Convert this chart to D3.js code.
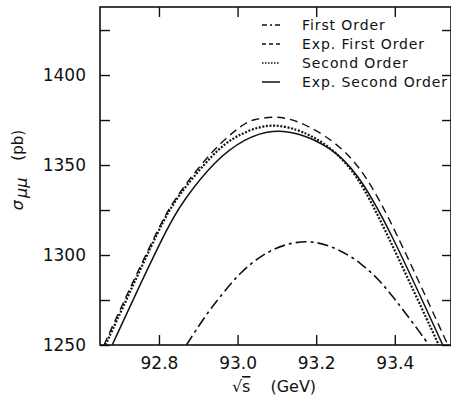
<!DOCTYPE html>
<html>
<head>
<meta charset="utf-8">
<script src="https://cdn.jsdelivr.net/npm/d3@7"></script>
<style>
  body { margin: 0; background: #fff; }
  text { font-family: "DejaVu Sans", sans-serif; fill: #111; }
</style>
</head>
<body>
<svg id="chart" width="451" height="399"></svg>
<script>
// values: sqrt(s) in GeV, sigma in pb
const firstS = [92.870, 92.8915, 92.928, 92.9635, 93.0085, 93.061, 93.123, 93.191, 93.258, 93.315, 93.362, 93.3975, 93.431, 93.4655, 93.4865];
const firstV = [1250, 1257.4, 1269.3, 1279.0, 1290.7, 1300.0, 1306.5, 1308.3, 1303.3, 1295.4, 1285.8, 1276.2, 1266.6, 1256.6, 1250];

const expFirstS = [92.660, 92.7186, 92.800, 92.842, 92.940, 93.0136, 93.0416, 93.0924, 93.1305, 93.184, 93.260, 93.3238, 93.395, 93.535];
const expFirstV = [1250, 1278, 1315.6, 1332.4, 1359.5, 1372.8, 1375.5, 1376.9, 1376.0, 1371.5, 1361, 1345.5, 1317, 1250];

const secondS = [92.664, 92.721, 92.8026, 92.845, 92.942, 92.993, 93.077, 93.154, 93.197, 93.235, 93.3035, 93.377, 93.512];
const secondV = [1250, 1277, 1315.6, 1332.4, 1357.5, 1366, 1373.6, 1369.8, 1365, 1360, 1345.5, 1313.5, 1250];

const expSecondS = [92.681, 92.740, 92.823, 92.861, 92.942, 93.019, 93.090, 93.158, 93.235, 93.303, 93.382, 93.522];
const expSecondV = [1250, 1278, 1316, 1330, 1352.5, 1365, 1369.8, 1367.8, 1360, 1346.5, 1316.7, 1250];

const legendLabels = ["First Order", "Exp. First Order", "Second Order", "Exp. Second Order"];
const xTicks = [92.8, 93.0, 93.2, 93.4];
const yTicks = [1250, 1275, 1300, 1325, 1350, 1375, 1400, 1425];
const yLabelled = [1250, 1300, 1350, 1400];

const svg = d3.select("#chart");
const margin = { top: 7, right: 0, bottom: 54, left: 100 };
const width = +svg.attr("width") - margin.left - margin.right;
const height = +svg.attr("height") - margin.top - margin.bottom;

const g = svg.append("g")
  .attr("transform", `translate(${margin.left},${margin.top})`);

const x = d3.scaleLinear().domain([92.65, 93.543]).range([0, width]);
const y = d3.scaleLinear().domain([1250, 1437.8]).range([height, 0]);

const styles = [
  { s: firstS, v: firstV, dash: "11,4,3,4", w: 1.6 },
  { s: expFirstS, v: expFirstV, dash: "8,5", w: 1.4 },
  { s: secondS, v: secondV, dash: "2,1.6", w: 2.2 },
  { s: expSecondS, v: expSecondV, dash: null, w: 1.5 }
];

g.append("clipPath").attr("id", "clip")
  .append("rect").attr("width", width).attr("height", height);

const line = d3.line()
  .x(d => x(d[0]))
  .y(d => y(d[1]))
  .curve(d3.curveBasis);

g.append("g").attr("clip-path", "url(#clip)")
  .selectAll("path")
  .data(styles)
  .enter()
  .append("path")
  .attr("d", d => line(d.s.map((s, i) => [s, d.v[i]])))
  .attr("fill", "none")
  .attr("stroke", "#111")
  .attr("stroke-width", d => d.w)
  .attr("stroke-dasharray", d => d.dash);

// axes, ticks pointing inward on all four sides
const fmtY = v => yLabelled.includes(v) ? d3.format("d")(v) : "";

g.append("g")
  .attr("transform", `translate(0,${height})`)
  .call(d3.axisBottom(x).tickValues(xTicks).tickFormat(d3.format(".1f")).tickSizeInner(-10).tickSizeOuter(0).tickPadding(12))
  .call(a => a.select(".domain").remove());

g.append("g")
  .call(d3.axisTop(x).tickValues(xTicks).tickFormat("").tickSizeInner(-10).tickSizeOuter(0))
  .call(a => a.select(".domain").remove());

g.append("g")
  .call(d3.axisLeft(y).tickValues(yTicks).tickFormat(fmtY).tickSizeInner(-10).tickSizeOuter(0).tickPadding(14))
  .call(a => a.select(".domain").remove());

g.append("g")
  .attr("transform", `translate(${width},0)`)
  .call(d3.axisRight(y).tickValues(yTicks).tickFormat("").tickSizeInner(-9).tickSizeOuter(0))
  .call(a => a.select(".domain").remove());

g.selectAll(".tick line").attr("stroke", "#111").attr("stroke-width", 1.4);
g.selectAll(".tick text").style("font-size", "17px").attr("fill", "#111");

g.append("rect")
  .attr("width", width)
  .attr("height", height)
  .attr("fill", "none")
  .attr("stroke", "#111")
  .attr("stroke-width", 1.6);

// legend
const legend = g.append("g").attr("transform", "translate(162,18)");
legend.selectAll("line")
  .data(styles)
  .enter()
  .append("line")
  .attr("x1", 0)
  .attr("x2", 18)
  .attr("y1", (d, i) => i * 19)
  .attr("y2", (d, i) => i * 19)
  .attr("stroke", "#111")
  .attr("stroke-width", d => Math.min(d.w, 1.6))
  .attr("stroke-dasharray", (d, i) => ["5,3,2,3", "4,3", "1.5,1.5", null][i]);

legend.selectAll("text")
  .data(legendLabels)
  .enter()
  .append("text")
  .attr("x", 40)
  .attr("y", (d, i) => i * 19 + 5)
  .style("font-size", "14px")
  .style("letter-spacing", "0.9px")
  .text(d => d);

// axis titles
const xt = svg.append("text")
  .attr("x", 274)
  .attr("y", 392)
  .attr("text-anchor", "middle")
  .style("font-size", "16px");
xt.append("tspan").text("√");
xt.append("tspan").style("text-decoration", "overline").text("s");
xt.append("tspan").attr("dx", 20).text("(GeV)");

const yt = svg.append("text")
  .attr("transform", "translate(23,170) rotate(-90)")
  .attr("text-anchor", "middle")
  .style("font-size", "16px");
yt.append("tspan").style("font-style", "italic").text("σ");
yt.append("tspan").attr("dy", 4).attr("dx", 2).style("font-size", "16px").style("font-style", "italic").text("μμ");
yt.append("tspan").attr("dy", -4).attr("dx", 17).style("font-size", "15px").text("(pb)");
</script>
</body>
</html>
